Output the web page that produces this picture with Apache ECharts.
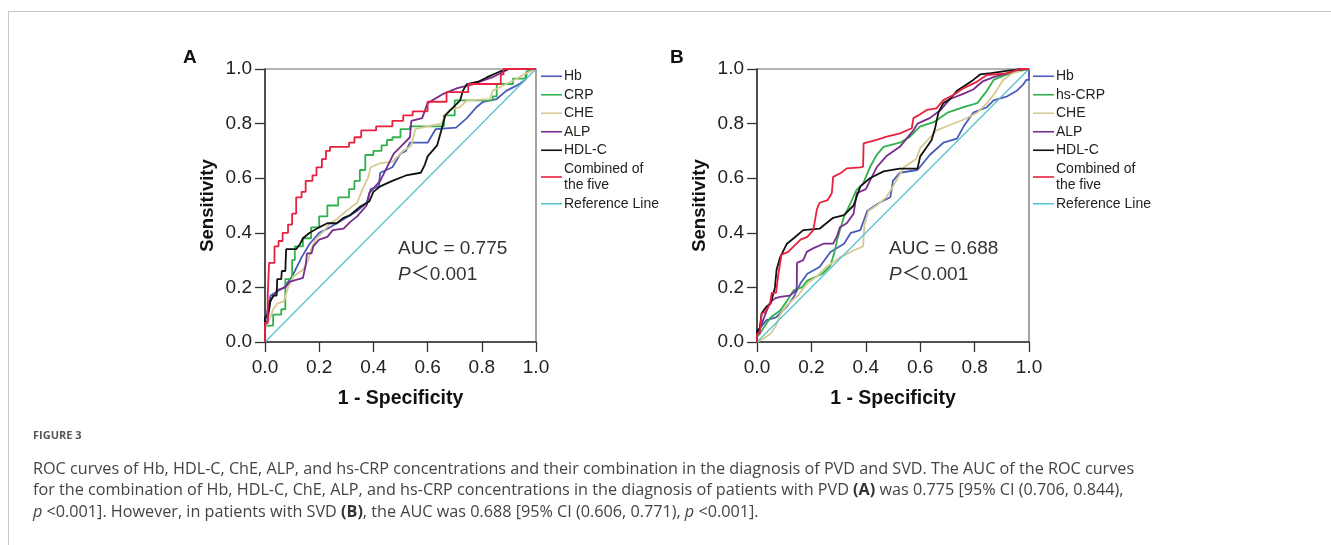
<!DOCTYPE html>
<html>
<head>
<meta charset="utf-8">
<script src="https://cdn.jsdelivr.net/npm/echarts@6.0.0/dist/echarts.min.js"></script>
<style>
html, body { margin: 0; padding: 0; background: #fff; }
#main { width: 1331px; height: 545px; }
</style>
</head>
<body>
<div id="main"></div>
<script>
// axis ticks (both panels)
const ticks = [0.0, 0.2, 0.4, 0.6, 0.8, 1.0];

const namesA = ['Hb', 'CRP', 'CHE', 'ALP', 'HDL-C', 'Combined of\nthe five', 'Reference Line'];
const namesB = ['Hb', 'hs-CRP', 'CHE', 'ALP', 'HDL-C', 'Combined of\nthe five', 'Reference Line'];
const colors = ['#4a5bb8', '#2fb24c', '#d6ca92', '#7a2c8c', '#111111', '#e8213f', '#5cc5cc'];

// panel A (PVD) - [1-specificity, sensitivity]
const hbA = [[0,0],[0,0.07],[0.02,0.17],[0.07,0.2],[0.1,0.24],[0.135,0.31],[0.165,0.36],[0.2,0.4],[0.24,0.42],[0.29,0.45],[0.34,0.48],[0.375,0.51],[0.39,0.56],[0.42,0.57],[0.425,0.62],[0.47,0.64],[0.5,0.69],[0.52,0.7],[0.535,0.73],[0.6,0.73],[0.63,0.78],[0.705,0.785],[0.745,0.82],[0.78,0.86],[0.805,0.88],[0.855,0.89],[0.89,0.92],[0.93,0.94],[0.96,0.96],[0.965,0.99],[1,1]];
const crpA = [[0,0],[0,0.06],[0.03,0.06],[0.03,0.1],[0.06,0.1],[0.06,0.12],[0.075,0.12],[0.075,0.23],[0.1,0.23],[0.1,0.3],[0.11,0.3],[0.11,0.35],[0.14,0.35],[0.14,0.38],[0.17,0.38],[0.17,0.42],[0.2,0.42],[0.2,0.46],[0.23,0.46],[0.23,0.5],[0.27,0.5],[0.27,0.53],[0.31,0.53],[0.31,0.56],[0.33,0.56],[0.33,0.59],[0.35,0.59],[0.35,0.63],[0.37,0.63],[0.37,0.685],[0.4,0.685],[0.4,0.7],[0.43,0.7],[0.43,0.72],[0.45,0.72],[0.45,0.74],[0.47,0.74],[0.47,0.75],[0.5,0.75],[0.5,0.78],[0.535,0.78],[0.535,0.79],[0.66,0.79],[0.66,0.83],[0.7,0.83],[0.7,0.885],[0.84,0.885],[0.84,0.9],[0.855,0.9],[0.855,0.945],[0.915,0.945],[0.915,0.965],[0.965,0.965],[0.965,0.99],[1,1]];
const cheA = [[0,0],[0,0.05],[0.02,0.09],[0.03,0.12],[0.045,0.14],[0.07,0.15],[0.085,0.2],[0.105,0.24],[0.14,0.265],[0.16,0.3],[0.17,0.34],[0.19,0.38],[0.22,0.41],[0.24,0.435],[0.265,0.45],[0.3,0.48],[0.34,0.51],[0.36,0.56],[0.38,0.6],[0.39,0.64],[0.425,0.655],[0.47,0.66],[0.51,0.7],[0.54,0.72],[0.555,0.78],[0.6,0.79],[0.65,0.8],[0.68,0.85],[0.72,0.86],[0.745,0.885],[0.83,0.89],[0.84,0.92],[0.89,0.945],[0.93,0.965],[0.965,0.985],[1,1]];
const alpA = [[0,0],[0,0.06],[0.01,0.08],[0.02,0.15],[0.045,0.19],[0.075,0.2],[0.09,0.22],[0.14,0.235],[0.15,0.28],[0.155,0.325],[0.172,0.325],[0.178,0.35],[0.2,0.375],[0.23,0.385],[0.25,0.41],[0.29,0.415],[0.315,0.44],[0.34,0.46],[0.375,0.5],[0.385,0.545],[0.425,0.59],[0.45,0.64],[0.475,0.69],[0.5,0.715],[0.535,0.75],[0.54,0.81],[0.58,0.82],[0.6,0.875],[0.66,0.91],[0.71,0.93],[0.77,0.945],[0.84,0.97],[0.88,0.99],[0.9,1],[1,1]];
const hdlA = [[0,0],[0,0.09],[0.01,0.1],[0.02,0.15],[0.03,0.17],[0.043,0.17],[0.045,0.23],[0.06,0.23],[0.062,0.26],[0.075,0.26],[0.078,0.34],[0.115,0.34],[0.13,0.36],[0.14,0.38],[0.165,0.4],[0.2,0.42],[0.23,0.435],[0.265,0.435],[0.29,0.455],[0.315,0.465],[0.35,0.495],[0.385,0.515],[0.4,0.55],[0.425,0.57],[0.47,0.59],[0.52,0.61],[0.575,0.62],[0.59,0.65],[0.6,0.68],[0.635,0.72],[0.652,0.78],[0.665,0.83],[0.695,0.86],[0.72,0.885],[0.73,0.92],[0.745,0.945],[0.79,0.955],[0.82,0.97],[0.865,0.99],[0.9,1],[1,1]];
const comboA = [[0,0],[0,0.07],[0.01,0.07],[0.01,0.17],[0.015,0.17],[0.015,0.29],[0.035,0.29],[0.035,0.35],[0.05,0.35],[0.05,0.37],[0.065,0.37],[0.065,0.4],[0.085,0.4],[0.085,0.43],[0.1,0.43],[0.1,0.47],[0.115,0.47],[0.115,0.53],[0.135,0.53],[0.135,0.55],[0.15,0.55],[0.15,0.59],[0.175,0.59],[0.175,0.61],[0.19,0.61],[0.19,0.64],[0.21,0.64],[0.21,0.67],[0.225,0.67],[0.225,0.7],[0.24,0.7],[0.24,0.715],[0.31,0.715],[0.31,0.73],[0.33,0.73],[0.33,0.75],[0.355,0.75],[0.355,0.775],[0.41,0.775],[0.41,0.79],[0.47,0.79],[0.47,0.81],[0.51,0.81],[0.51,0.83],[0.545,0.83],[0.545,0.845],[0.6,0.845],[0.6,0.88],[0.67,0.88],[0.67,0.915],[0.75,0.915],[0.75,0.945],[0.87,0.945],[0.87,0.98],[0.88,0.98],[0.88,1],[1,1]];

// panel B (SVD)
const hbB = [[0,0],[0,0.03],[0.01,0.05],[0.035,0.08],[0.07,0.09],[0.11,0.13],[0.135,0.165],[0.16,0.215],[0.185,0.25],[0.23,0.275],[0.27,0.33],[0.32,0.36],[0.345,0.4],[0.38,0.41],[0.405,0.48],[0.45,0.51],[0.49,0.53],[0.5,0.59],[0.525,0.62],[0.59,0.63],[0.635,0.685],[0.685,0.73],[0.735,0.745],[0.76,0.79],[0.795,0.84],[0.845,0.86],[0.87,0.885],[0.92,0.9],[0.955,0.92],[0.98,0.945],[0.99,0.96],[1,0.96],[1,1]];
const crpB = [[0,0],[0,0.02],[0.01,0.03],[0.03,0.06],[0.05,0.09],[0.085,0.115],[0.11,0.15],[0.135,0.19],[0.165,0.2],[0.185,0.225],[0.24,0.25],[0.27,0.28],[0.285,0.33],[0.295,0.375],[0.305,0.41],[0.32,0.46],[0.34,0.5],[0.365,0.555],[0.39,0.58],[0.415,0.64],[0.44,0.685],[0.465,0.715],[0.525,0.73],[0.56,0.75],[0.6,0.79],[0.65,0.805],[0.7,0.84],[0.76,0.86],[0.81,0.875],[0.845,0.92],[0.87,0.96],[0.905,0.975],[0.95,0.99],[1,1]];
const cheB = [[0,0],[0.02,0.01],[0.05,0.03],[0.07,0.06],[0.085,0.1],[0.11,0.135],[0.15,0.17],[0.185,0.215],[0.22,0.24],[0.255,0.275],[0.305,0.31],[0.355,0.335],[0.39,0.35],[0.395,0.43],[0.41,0.48],[0.44,0.5],[0.475,0.53],[0.5,0.57],[0.54,0.64],[0.585,0.67],[0.6,0.71],[0.66,0.775],[0.71,0.795],[0.76,0.815],[0.81,0.84],[0.845,0.875],[0.87,0.905],[0.905,0.96],[0.94,0.985],[1,1]];
const alpB = [[0,0],[0,0.03],[0.015,0.06],[0.03,0.1],[0.048,0.145],[0.066,0.16],[0.085,0.165],[0.12,0.17],[0.146,0.19],[0.147,0.29],[0.17,0.3],[0.183,0.33],[0.21,0.345],[0.245,0.36],[0.28,0.36],[0.295,0.39],[0.305,0.42],[0.33,0.435],[0.355,0.47],[0.367,0.545],[0.4,0.56],[0.44,0.64],[0.475,0.68],[0.525,0.715],[0.575,0.775],[0.59,0.8],[0.635,0.82],[0.675,0.85],[0.71,0.89],[0.76,0.91],[0.795,0.925],[0.83,0.955],[0.87,0.97],[0.92,0.985],[0.96,1],[1,1]];
const hdlB = [[0,0],[0,0.04],[0.01,0.05],[0.017,0.105],[0.035,0.13],[0.05,0.14],[0.066,0.2],[0.072,0.265],[0.085,0.31],[0.11,0.36],[0.135,0.38],[0.17,0.41],[0.23,0.415],[0.255,0.435],[0.28,0.455],[0.32,0.465],[0.355,0.5],[0.38,0.57],[0.415,0.6],[0.465,0.625],[0.525,0.635],[0.59,0.635],[0.6,0.68],[0.625,0.715],[0.642,0.74],[0.655,0.785],[0.667,0.84],[0.685,0.875],[0.71,0.89],[0.735,0.92],[0.765,0.94],[0.795,0.96],[0.82,0.98],[0.86,0.985],[0.93,0.995],[1,1]];
const comboB = [[0,0],[0,0.03],[0.01,0.03],[0.017,0.105],[0.03,0.11],[0.048,0.14],[0.054,0.18],[0.07,0.18],[0.078,0.245],[0.09,0.32],[0.115,0.33],[0.135,0.35],[0.16,0.375],[0.185,0.385],[0.207,0.41],[0.22,0.485],[0.23,0.51],[0.26,0.52],[0.275,0.545],[0.28,0.605],[0.31,0.62],[0.33,0.636],[0.38,0.64],[0.39,0.642],[0.392,0.728],[0.44,0.74],[0.477,0.752],[0.526,0.764],[0.569,0.783],[0.575,0.82],[0.593,0.83],[0.624,0.85],[0.66,0.856],[0.685,0.886],[0.722,0.905],[0.76,0.93],[0.808,0.953],[0.845,0.978],[0.918,0.984],[0.955,0.996],[0.97,1],[1,1]];

const refLine = [[0,0],[1,1]];

const aucA = ['AUC = 0.775', '{i|P}＜0.001'];
const aucB = ['AUC = 0.688', '{i|P}＜0.001'];

const font = 'Liberation Sans, Arial, Noto Sans CJK SC';

function makeAxis(idx, name, isY) {
  return {
    type: 'value',
    gridIndex: idx,
    min: ticks[0],
    max: ticks[ticks.length - 1],
    interval: 0.2,
    name: name,
    nameLocation: 'middle',
    nameGap: isY ? 48 : 47,
    nameTextStyle: { fontFamily: font, fontSize: isY ? 18.5 : 19.5, fontWeight: 'bold', color: '#111' },
    axisLine: { show: true, onZero: false, lineStyle: { color: '#333', width: 1.5 } },
    axisTick: { show: true, length: 10, lineStyle: { color: '#333', width: 1.3 } },
    axisLabel: {
      fontFamily: font, fontSize: 19, color: '#222', margin: isY ? 13 : 16,
      formatter: v => v.toFixed(1)
    },
    splitLine: { show: false }
  };
}

function makeSeries(names, list, idx) {
  return list.map((d, i) => ({
    name: names[i],
    type: 'line',
    xAxisIndex: idx,
    yAxisIndex: idx,
    data: d,
    symbol: 'none',
    silent: true,
    z: i === 5 ? 4 : 2,
    lineStyle: { color: colors[i], width: i === 6 ? 1.4 : 1.8 },
    itemStyle: { color: colors[i] }
  }));
}

function makeLegend(names, left) {
  return {
    data: names,
    orient: 'vertical',
    left: left,
    top: 68,
    padding: 0,
    itemGap: 2,
    icon: 'rect',
    itemWidth: 21,
    itemHeight: 1.6,
    selectedMode: false,
    textStyle: { fontFamily: font, fontSize: 14, color: '#222', lineHeight: 16.5, padding: [0, 0, 0, -3] }
  };
}

function aucText(lines, x) {
  return lines.map((t, i) => ({
    type: 'text',
    left: x,
    top: i === 0 ? 239 : 265,
    style: {
      text: t,
      font: '19px ' + font,
      fill: '#333',
      rich: { i: { fontStyle: 'italic', fontSize: 19, fontFamily: font, fill: '#333' } }
    }
  }));
}

const captionStyle = {
  fontFamily: 'Open Sans', fontSize: 16.2, fill: '#444'
};
const captionRich = {
  b: { fontFamily: 'Open Sans', fontSize: 16.2, fontWeight: 'bold', fill: '#333' },
  i: { fontFamily: 'Open Sans', fontSize: 16.2, fontStyle: 'italic', fill: '#444' }
};
const captionLines = [
  'ROC curves of Hb, HDL-C, ChE, ALP, and hs-CRP concentrations and their combination in the diagnosis of PVD and SVD. The AUC of the ROC curves',
  'for the combination of Hb, HDL-C, ChE, ALP, and hs-CRP concentrations in the diagnosis of patients with PVD {b|(A)} was 0.775 [95% CI (0.706, 0.844),',
  '{i|p} <0.001]. However, in patients with SVD {b|(B)}, the AUC was 0.688 [95% CI (0.606, 0.771), {i|p} <0.001].'
];

const chart = echarts.init(document.getElementById('main'), null, { renderer: 'canvas' });

const option = {
  animation: false,
  backgroundColor: '#fff',
  grid: [
    { left: 265, top: 69, width: 271, height: 273, show: true, borderColor: '#666', borderWidth: 1.2 },
    { left: 757, top: 69, width: 272, height: 273, show: true, borderColor: '#666', borderWidth: 1.2 }
  ],
  xAxis: [makeAxis(0, '1 - Specificity', false), makeAxis(1, '1 - Specificity', false)],
  yAxis: [makeAxis(0, 'Sensitivity', true), makeAxis(1, 'Sensitivity', true)],
  legend: [makeLegend(namesA, 541), makeLegend(namesB, 1033)],
  series: [
    ...makeSeries(namesA, [hbA, crpA, cheA, alpA, hdlA, comboA, refLine], 0),
    ...makeSeries(namesB, [hbB, crpB, cheB, alpB, hdlB, comboB, refLine], 1)
  ],
  graphic: [
    // figure frame
    { type: 'line', shape: { x1: 8, y1: 11.5, x2: 1331, y2: 11.5 }, style: { stroke: '#c8c8c8', lineWidth: 1 } },
    { type: 'line', shape: { x1: 8.5, y1: 11, x2: 8.5, y2: 545 }, style: { stroke: '#c8c8c8', lineWidth: 1 } },
    // panel letters
    { type: 'text', left: 183, top: 48, style: { text: 'A', font: 'bold 19px ' + font, fill: '#111' } },
    { type: 'text', left: 670, top: 48, style: { text: 'B', font: 'bold 19px ' + font, fill: '#111' } },
    ...aucText(aucA, 398),
    ...aucText(aucB, 889),
    // caption
    { type: 'text', left: 33, top: 430, style: { text: 'FIGURE 3', font: 'bold 11px Open Sans', fill: '#555' } },
    ...captionLines.map((t, i) => ({
      type: 'text', left: 33, top: 461 + i * 21.5,
      style: Object.assign({ text: t, rich: captionRich }, captionStyle)
    }))
  ]
};

chart.setOption(option);
</script>
</body>
</html>
